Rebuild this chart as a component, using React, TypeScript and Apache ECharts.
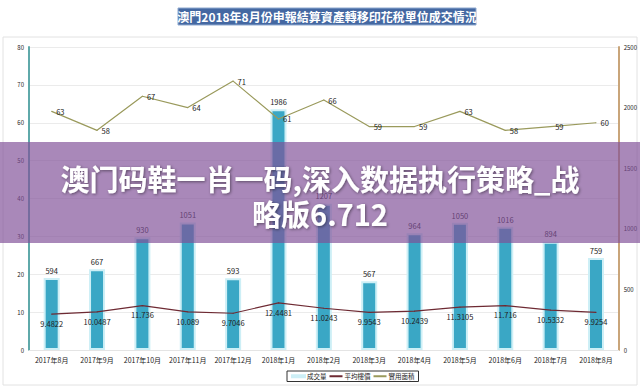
import React, { useEffect, useRef } from "react";
import * as echarts from "echarts";

const categories = ["2017年8月", "2017年9月", "2017年10月", "2017年11月", "2017年12月", "2018年1月", "2018年2月", "2018年3月", "2018年4月", "2018年5月", "2018年6月", "2018年7月", "2018年8月"];
const volume = [594, 667, 930, 1051, 593, 1986, 1207, 567, 964, 1050, 1016, 894, 759];
const avgPrice = [9.4822, 10.0487, 11.736, 10.089, 9.7046, 12.4481, 11.0243, 9.9543, 10.2439, 11.3105, 11.716, 10.5332, 9.9254];
const area = [63, 58, 67, 64, 71, 61, 66, 59, 59, 63, 58, 59, 60];
const seriesNames = ["成交量", "平均樓價", "實用面積"];
const titleText = "澳門2018年8月份申報結算資產轉移印花稅單位成交情況";
const overlayLine1 = "澳门码鞋一肖一码,深入数据执行策略_战";
const overlayLine2 = "略版6.712";

export default function App() {
  const ref = useRef<HTMLDivElement>(null);
  useEffect(() => {
    const chart = echarts.init(ref.current!, undefined, { renderer: "svg" });
    const font = "Noto Sans CJK TC, Noto Sans, sans-serif";
    const overlayStyle = {
      fill: "#ffffff",
      font: "bold 29px 'Noto Sans CJK SC', sans-serif",
      align: "center",
      verticalAlign: "middle",
      textShadowColor: "rgba(0,0,0,0.45)",
      textShadowBlur: 3,
      textShadowOffsetX: 1,
      textShadowOffsetY: 1,
    };
    chart.setOption({
      animation: false,
      backgroundColor: "#ffffff",
      textStyle: { fontFamily: font },
      grid: { left: 29, right: 21, top: 47, bottom: 37 },
      legend: {
        data: seriesNames,
        left: 287,
        top: 371,
        itemWidth: 13,
        itemHeight: 2,
        itemGap: 3,
        icon: "rect",
        padding: [2, 4],
        borderColor: "#333",
        borderWidth: 1,
        textStyle: { fontSize: 6.5, color: "#222", padding: [0, 0, 0, -3] },
      },
      xAxis: {
        type: "category",
        data: categories,
        axisLine: { show: true, lineStyle: { color: "#e4e4e4" } },
        axisTick: { show: false },
        axisLabel: { fontSize: 7, color: "#222", margin: 6, interval: 0 },
      },
      yAxis: [
        {
          type: "value",
          min: 0,
          max: 80,
          interval: 10,
          axisLine: { show: true, lineStyle: { color: "#5fa9aa", width: 2 } },
          axisTick: { show: false },
          axisLabel: { fontSize: 6, color: "#222", margin: 5 },
          splitLine: { lineStyle: { color: "#ebebeb" } },
        },
        {
          type: "value",
          min: 0,
          max: 2500,
          interval: 500,
          axisLine: { show: true, lineStyle: { color: "#c9a57a", width: 2 } },
          axisTick: { show: false },
          axisLabel: { fontSize: 6, color: "#222", margin: 5, formatter: (v: number) => String(v) },
          splitLine: { show: false },
        },
      ],
      series: [
        {
          name: seriesNames[0],
          type: "bar",
          yAxisIndex: 1,
          data: volume,
          barWidth: 16,
          itemStyle: { color: "#3aa7c5", borderColor: "#cdeff6", borderWidth: 2 },
          label: { show: true, position: "top", fontSize: 7.5, color: "#222", distance: 4 },
        },
        {
          name: seriesNames[1],
          type: "line",
          yAxisIndex: 0,
          data: avgPrice,
          symbol: "circle",
          symbolSize: 1,
          showSymbol: true,
          lineStyle: { color: "#6e2a33", width: 1.2 },
          itemStyle: { color: "#6e2a33" },
          label: { show: true, position: "bottom", fontSize: 7.5, color: "#222", distance: 5 },
        },
        {
          name: seriesNames[2],
          type: "line",
          yAxisIndex: 0,
          data: area,
          symbol: "circle",
          symbolSize: 1,
          showSymbol: true,
          lineStyle: { color: "#9a9a5c", width: 1.2 },
          itemStyle: { color: "#9a9a5c" },
          label: { show: true, position: "right", fontSize: 7.5, color: "#222", distance: 4 },
        },
      ],
      graphic: [
        {
          type: "rect",
          shape: { x: 3, y: 37, width: 634, height: 348 },
          style: { fill: "none", stroke: "#e2e2e2", lineWidth: 1 },
          z: -1,
          silent: true,
        },
        {
          type: "rect",
          shape: { x: 178, y: 8, width: 298, height: 17 },
          style: { fill: "#4468a2", stroke: "#8fa9cf", lineWidth: 1 },
          z: 10,
        },
        {
          type: "text",
          x: 327,
          y: 16.5,
          style: {
            text: titleText,
            fill: "#ffffff",
            font: "bold 12px 'Noto Sans CJK TC', sans-serif",
            align: "center",
            verticalAlign: "middle",
          },
          z: 11,
        },
        {
          type: "rect",
          shape: { x: 0, y: 142, width: 640, height: 101 },
          style: { fill: "rgba(128,80,152,0.68)" },
          z: 100,
        },
        { type: "text", x: 320, y: 178, style: { ...overlayStyle, text: overlayLine1 }, z: 101 },
        { type: "text", x: 320, y: 213, style: { ...overlayStyle, text: overlayLine2 }, z: 101 },
      ],
    });
    return () => chart.dispose();
  }, []);
  return <div ref={ref} style={{ position: "fixed", left: 0, top: 0, width: 640, height: 387 }} />;
}
